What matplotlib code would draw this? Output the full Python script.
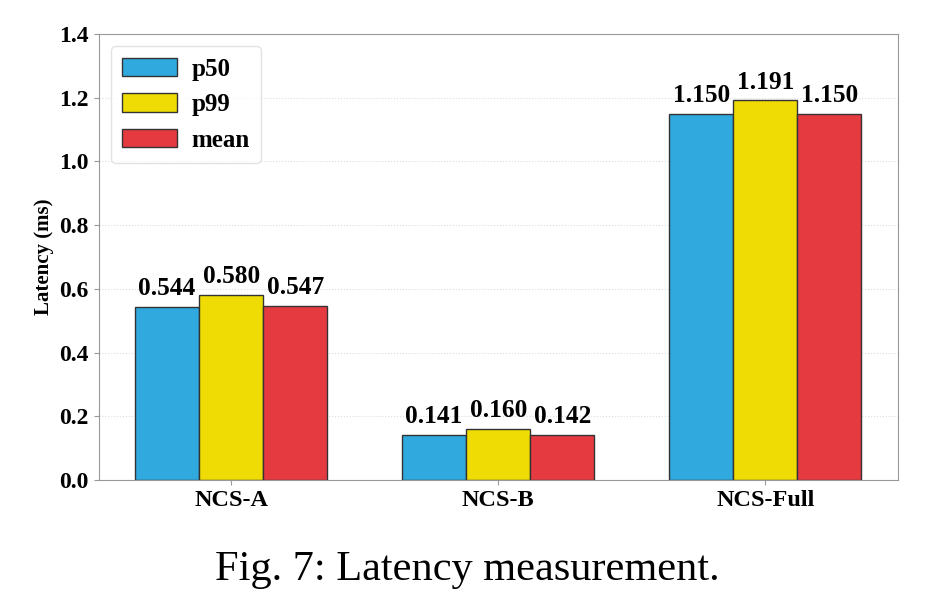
import numpy as np
from matplotlib import pyplot as plt

plt.rcParams['font.family'] = ['Liberation Serif', 'DejaVu Serif']

groups = ['NCS-A', 'NCS-B', 'NCS-Full']
p50 = [0.544, 0.141, 1.150]
p99 = [0.580, 0.160, 1.191]
mean = [0.547, 0.142, 1.150]
series = [('p50', p50, '#30A9DE'), ('p99', p99, '#EFDC05'), ('mean', mean, '#E53A40')]

fig = plt.figure(figsize=(9.4, 6.04), dpi=100)
ax = fig.add_axes([0.105, 0.205, 0.85, 0.739])

x = np.arange(len(groups))
w = 0.24
for i, (name, vals, col) in enumerate(series):
    bars = ax.bar(x + (i - 1) * w, vals, w, label=name, color=col,
                  edgecolor='#333333', linewidth=1)
    ax.bar_label(bars, labels=['%.3f' % v for v in vals], padding=5,
                 fontsize=18.3, fontweight='bold')

ax.set_ylim(0, 1.4)
ax.set_yticks(np.arange(0, 1.41, 0.2))
ax.set_xticks(x)
ax.set_xticklabels(groups, fontsize=17.5, fontweight='bold')
for t in ax.get_yticklabels():
    t.set_fontsize(17)
    t.set_fontweight('bold')
ax.set_ylabel('Latency (ms)', fontsize=15, fontweight='bold')
ax.yaxis.grid(True, linestyle=':', color='#dddddd', linewidth=0.8)
ax.set_axisbelow(True)
for s in ax.spines.values():
    s.set_color('#999999')
ax.tick_params(colors='#999999', labelcolor='black')

leg = ax.legend(loc='upper left', fontsize=18, handlelength=2.2, handleheight=0.75,
                borderpad=0.45, labelspacing=0.5, handletextpad=0.55, fancybox=True)
for t in leg.get_texts():
    t.set_fontweight('bold')
leg.get_frame().set_edgecolor('#dddddd')

fig.text(0.497, 0.04, 'Fig. 7: Latency measurement.', ha='center', fontsize=30.5)

fig.savefig('out.png', dpi=100)
